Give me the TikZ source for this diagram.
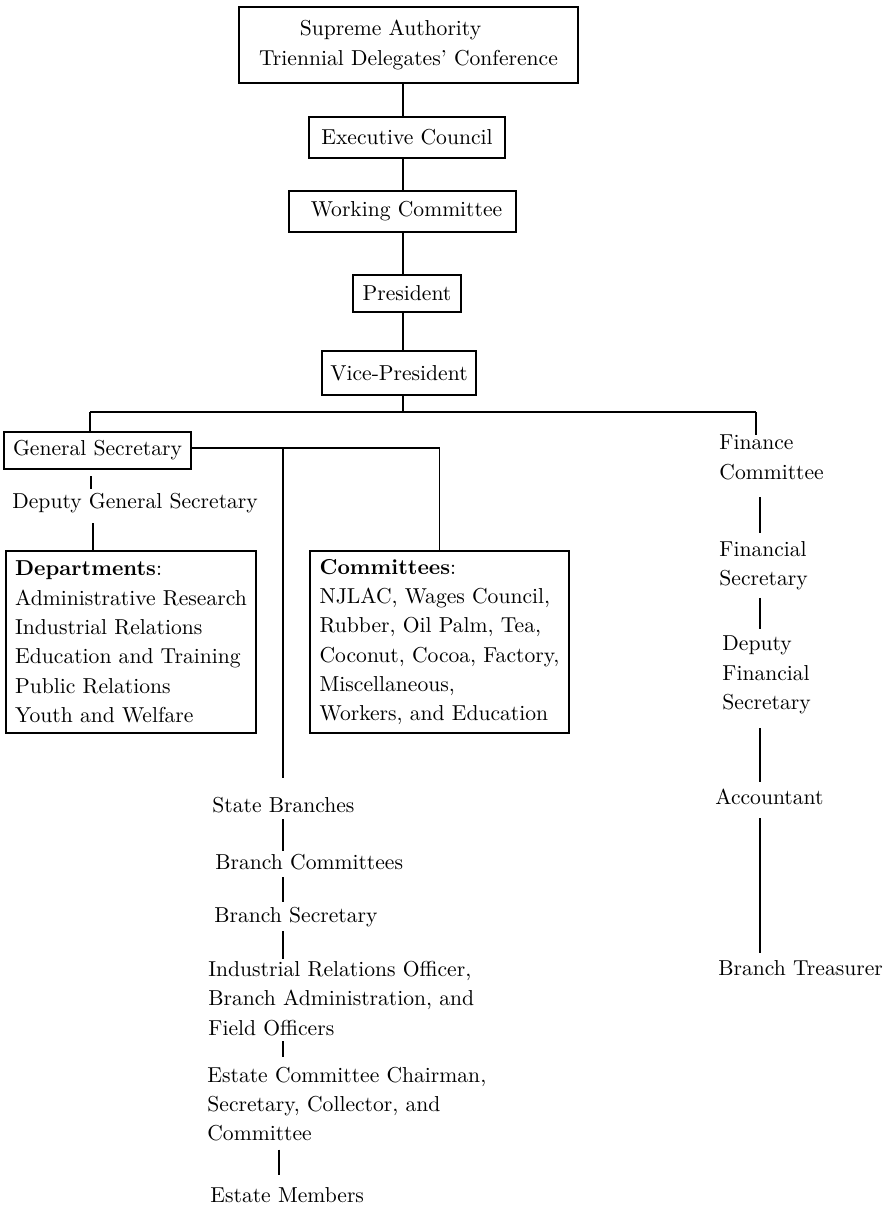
\documentclass[tikz,border=0pt]{standalone}
\usepackage{fontspec}
\begin{document}
\begin{tikzpicture}[x=0.5pt,y=-0.5pt,
  every node/.style={font=\fontsize{10.8pt}{14.65pt}\selectfont, inner sep=0pt},
  box/.style={draw, line width=1pt, inner sep=2pt},
  label/.style={align=left, anchor=west},
  conn/.style={line width=0.75pt}]
\useasboundingbox (0,0) rectangle (886,1205);

% governing bodies, top to bottom
\node[box, align=center, minimum width=169.5pt, minimum height=38pt] (sup) at (408.5,45)
  {Supreme Authority\hspace*{18pt}\\Triennial Delegates' Conference};
\node[box, minimum width=98pt, minimum height=20.5pt] (exec) at (407,137.5) {Executive Council};
\node[box, minimum width=113.5pt, minimum height=20.5pt] (work) at (402.5,211.5) {\hspace*{4pt}Working Committee};
\node[box, minimum width=54pt, minimum height=18.5pt] (pres) at (407,293.5) {President};
\node[box, minimum width=77pt, minimum height=22pt] (vice) at (399,373) {Vice-President};

% secretariat
\node[box, minimum width=93.5pt, minimum height=18.5pt] (gensec) at (97.5,450.5) {General Secretary};
\node[label] (depgen) at (12,503) {Deputy General Secretary};
\node[box, anchor=north west, align=left, minimum width=125pt, minimum height=91pt] (depts) at (5,550)
  {\textbf{Departments}:\\Administrative Research\\Industrial Relations\\Education and Training\\Public Relations\\Youth and Welfare};
\node[box, anchor=north west, align=left, minimum width=129.5pt, minimum height=91pt] (comms) at (309,550)
  {\textbf{Committees}:\\NJLAC, Wages Council,\\Rubber, Oil Palm, Tea,\\Coconut, Cocoa, Factory,\\Miscellaneous,\\Workers, and Education};

% finance line
\node[label] (fincom) at (719,457.5) {Finance\\Committee};
\node[label] (finsec) at (719,566) {Financial\\Secretary};
\node[label] (depfin) at (722,675) {Deputy\\Financial\\Secretary};
\node[label] (acct) at (715,797) {Accountant};
\node[label] (treas) at (718,968) {Branch Treasurer};

% branch line
\node[label] (state) at (212,805) {State Branches};
\node[label] (brcom) at (215,862) {Branch Committees};
\node[label] (brsec) at (214,917) {Branch Secretary};
\node[label] (iro) at (208,998.5) {Industrial Relations Officer,\\Branch Administration, and\\Field Officers};
\node[label] (ecc) at (207,1104) {Estate Committee Chairman,\\Secretary, Collector, and\\Committee};
\node[label] (members) at (210,1195) {Estate Members};

% helper points for the connector lines
\coordinate (junc) at (403,412);
\coordinate (busL) at (90,412);
\coordinate (busR) at (756,412);
\coordinate (gsout) at ([yshift=1.25pt]gensec.east);
\coordinate (stem) at (283,448);
\coordinate (gsx) at (91,0);
\coordinate (dgx) at (93,0);
\coordinate (midx) at (283,0);
\coordinate (lowx) at (279,0);
\coordinate (finx) at (760,0);

% main spine
\draw[conn] (sup.south -| junc) -- (exec.north -| junc);
\draw[conn] (exec.south -| junc) -- (work.north -| junc);
\draw[conn] (work.south -| junc) -- (pres.north -| junc);
\draw[conn] (pres.south -| junc) -- (vice.north -| junc);
\draw[conn] (vice.south -| junc) -- (junc);
\draw[conn] (busL) -- (busR);
\draw[conn] (busL) -- (gensec.north -| busL);
\draw[conn] (busR) -- (fincom.north -| busR);

% secretariat links
\draw[conn] (gsout) -- (comms.north |- gsout) -- (comms.north);
\draw[conn, shorten <=3pt, shorten >=2pt] (gensec.south -| gsx) -- (depgen.north -| gsx);
\draw[conn, shorten <=5pt] (depgen.south -| dgx) -- (depts.north -| dgx);

% branch links
\draw[conn, shorten >=9.5pt] (stem) -- (state.north -| stem);
\draw[conn, shorten <=3pt, shorten >=1.5pt] (state.south -| midx) -- (brcom.north -| midx);
\draw[conn, shorten <=3.5pt, shorten >=2.5pt] (brcom.south -| midx) -- (brsec.north -| midx);
\draw[conn, shorten <=2pt, shorten >=1pt] (brsec.south -| midx) -- (iro.north -| midx);
\draw[conn, shorten <=2.5pt, shorten >=4.5pt] (iro.south -| midx) -- (ecc.north -| midx);
\draw[conn, shorten <=4pt, shorten >=6pt] (ecc.south -| lowx) -- (members.north -| lowx);

% finance links
\draw[conn, shorten <=8.5pt, shorten >=4pt] (fincom.south -| finx) -- (finsec.north -| finx);
\draw[conn, shorten <=3.5pt, shorten >=3.5pt] (finsec.south -| finx) -- (depfin.north -| finx);
\draw[conn, shorten <=7pt, shorten >=3.5pt] (depfin.south -| finx) -- (acct.north -| finx);
\draw[conn, shorten <=6.5pt, shorten >=3.5pt] (acct.south -| finx) -- (treas.north -| finx);
\end{tikzpicture}
\end{document}
